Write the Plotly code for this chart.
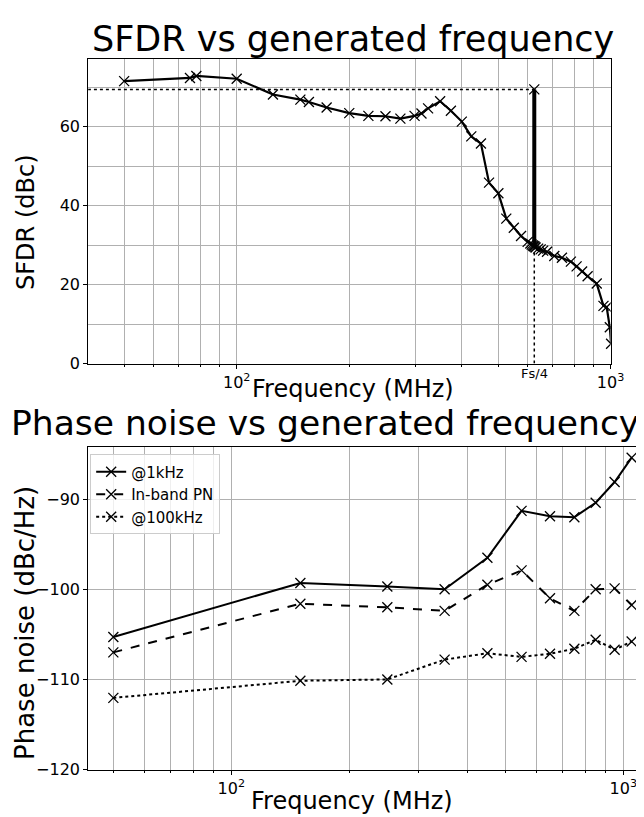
import plotly.graph_objects as go

# ---------------- data ----------------
sfdr_freq = [50, 75, 78, 100, 125, 148, 156, 174, 200, 225, 250, 274, 299, 312, 325,
             350, 374, 400, 424, 450, 473, 501, 526, 551, 576, 600, 610, 615, 620, 623,
             625, 627, 630, 640, 650, 660, 676, 707, 741, 783, 811, 839, 868, 918, 957,
             976, 995, 1003]
sfdr_db = [71.5, 72.3, 72.8, 72.1, 68.1, 66.8, 66.2, 64.8, 63.4, 62.7, 62.6, 62.0, 62.7,
           63.3, 64.6, 66.4, 64.0, 61.25, 57.5, 55.7, 45.8, 43.1, 36.7, 34.4, 32.3, 30.8,
           30.4, 30.1, 29.9, 29.7, 69.4, 29.6, 29.4, 29.1, 28.9, 28.6, 28.3, 27.25, 26.8,
           25.8, 24.6, 23.3, 22.1, 20.25, 14.6, 14.3, 9.2, 5.0]
fs4_freq = 625
fs4_peak = 69.4
fs4_floor = 29.6
sfdr_left = 40

pn_freq = [50, 150, 250, 350, 450, 550, 650, 750, 850, 950, 1050]
pn_1khz = [-105.3, -99.3, -99.7, -100.0, -96.5, -91.3, -91.9, -92.0, -90.4, -88.1, -85.4]
pn_inband = [-107.0, -101.6, -102.0, -102.4, -99.5, -97.9, -101.0, -102.4, -100.0, -99.9, -101.75]
pn_100khz = [-112.05, -110.15, -110.0, -107.8, -107.1, -107.5, -107.15, -106.6, -105.6, -106.7, -105.8]

top_minor = [40, 50, 60, 70, 80, 90, 200, 300, 400, 500, 600, 700, 800, 900]
bot_minor = [50, 60, 70, 80, 90, 200, 300, 400, 500, 600, 700, 800, 900]
major_vals = [100, 1000]
major_text = ["10<sup>2</sup>", "10<sup>3</sup>"]

W, H = 644, 817
FONT = "DejaVu Sans"
GRID = "#b0b0b0"

def px_x(p):
    return p / W

def px_y(p):
    return 1 - p / H

fig = go.Figure()

marker = dict(symbol="x-thin", size=10, line=dict(width=1.3, color="black"), color="black")

# top plot
fig.add_trace(go.Scatter(x=[sfdr_left, fs4_freq], y=[fs4_peak, fs4_peak],
                         mode="lines", line=dict(color="black", width=1.5, dash="dot"),
                         xaxis="x", yaxis="y", showlegend=False, hoverinfo="skip"))
fig.add_trace(go.Scatter(x=[fs4_freq, fs4_freq], y=[0, fs4_floor],
                         mode="lines", line=dict(color="black", width=1.5, dash="dot"),
                         xaxis="x", yaxis="y", showlegend=False, hoverinfo="skip"))
fig.add_trace(go.Scatter(x=sfdr_freq, y=sfdr_db, mode="lines+markers",
                         line=dict(color="black", width=2.2), marker=marker,
                         xaxis="x", yaxis="y", showlegend=False))
# thick spike body
fig.add_trace(go.Scatter(x=[fs4_freq, fs4_freq], y=[fs4_floor, fs4_peak], mode="lines",
                         line=dict(color="black", width=4), xaxis="x", yaxis="y",
                         showlegend=False, hoverinfo="skip"))

# bottom plot
fig.add_trace(go.Scatter(x=pn_freq, y=pn_1khz, mode="lines+markers", name="@1kHz",
                         line=dict(color="black", width=2, dash="solid"), marker=marker,
                         xaxis="x2", yaxis="y2"))
fig.add_trace(go.Scatter(x=pn_freq, y=pn_inband, mode="lines+markers", name="In-band PN",
                         line=dict(color="black", width=2, dash="dash"), marker=marker,
                         xaxis="x2", yaxis="y2"))
fig.add_trace(go.Scatter(x=pn_freq, y=pn_100khz, mode="lines+markers", name="@100kHz",
                         line=dict(color="black", width=2, dash="dot"), marker=marker,
                         xaxis="x2", yaxis="y2"))

tickfont = dict(family=FONT, size=16, color="black")

common_x = dict(type="log", showline=True, linecolor="black", linewidth=1, mirror=True,
                ticks="outside", ticklen=4, tickcolor="black", tickfont=tickfont,
                tickvals=major_vals, ticktext=major_text, showgrid=True, gridcolor=GRID,
                gridwidth=1, zeroline=False)

fig.update_layout(
    width=W, height=H,
    margin=dict(l=0, r=0, t=0, b=0),
    paper_bgcolor="white", plot_bgcolor="white",
    font=dict(family=FONT, color="black"),
    xaxis=dict(common_x, domain=[px_x(82), px_x(616)], range=[1.6029, 3.0],
               anchor="y",
               minor=dict(tickvals=top_minor, ticks="outside", ticklen=2, tickcolor="black",
                          showgrid=True, gridcolor=GRID, gridwidth=1)),
    yaxis=dict(domain=[px_y(360), px_y(52)], range=[0, 77], anchor="x",
               showline=True, linecolor="black", linewidth=1, mirror=True,
               ticks="outside", ticklen=4, tickcolor="black", tickfont=tickfont,
               tickvals=[0, 20, 40, 60], ticktext=["0", "20", "40", "60"],
               showgrid=True, gridcolor=GRID, zeroline=False,
               minor=dict(tickvals=[10, 30, 50, 70], ticks="", showgrid=True,
                          gridcolor=GRID, gridwidth=1)),
    xaxis2=dict(common_x, domain=[px_x(82), 1.0], range=[1.6349, 3.0374], anchor="y2",
                minor=dict(tickvals=bot_minor, ticks="outside", ticklen=2, tickcolor="black",
                           showgrid=True, gridcolor=GRID, gridwidth=1)),
    yaxis2=dict(domain=[px_y(771), px_y(444.3)], range=[-120, -84.2], anchor="x2",
                showline=True, linecolor="black", linewidth=1, mirror=False,
                ticks="outside", ticklen=4, tickcolor="black", tickfont=tickfont,
                tickvals=[-120, -110, -100, -90],
                ticktext=["\u2212120", "\u2212110", "\u2212100", "\u221290"],
                showgrid=True, gridcolor=GRID, zeroline=False),
    legend=dict(x=px_x(84), y=px_y(452), xanchor="left", yanchor="top",
                bgcolor="rgba(255,255,255,0.8)", bordercolor="#cccccc", borderwidth=1,
                font=dict(family=FONT, size=15, color="black"), tracegroupgap=4,
                itemwidth=30),
    showlegend=True,
)

annos = [
    dict(text="SFDR vs generated frequency", x=px_x(353), y=px_y(31), size=35),
    dict(text="Phase noise vs generated frequency", x=px_x(324), y=px_y(420), size=34.5),
    dict(text="Frequency (MHz)", x=px_x(353), y=px_y(386), size=24),
    dict(text="Frequency (MHz)", x=px_x(352), y=px_y(803), size=24),
]
for a in annos:
    fig.add_annotation(text=a["text"], x=a["x"], y=a["y"], xref="paper", yref="paper",
                       xanchor="center", yanchor="middle", showarrow=False,
                       font=dict(family=FONT, size=a["size"], color="black"))

fig.add_annotation(text="SFDR (dBc)", x=px_x(19), y=px_y(217), xref="paper", yref="paper",
                   textangle=-90, showarrow=False, xanchor="center", yanchor="middle",
                   font=dict(family=FONT, size=24, color="black"))
fig.add_annotation(text="Phase noise (dBc/Hz)", x=px_x(18), y=px_y(623), xref="paper",
                   yref="paper", textangle=-90, showarrow=False, xanchor="center",
                   yanchor="middle", font=dict(family=FONT, size=26, color="black"))
fig.add_annotation(text="Fs/4", x=2.7959, y=px_y(370), xref="x", yref="paper",
                   showarrow=False, xanchor="center", yanchor="middle",
                   font=dict(family=FONT, size=13, color="black"))

fig.write_html("out.html")
